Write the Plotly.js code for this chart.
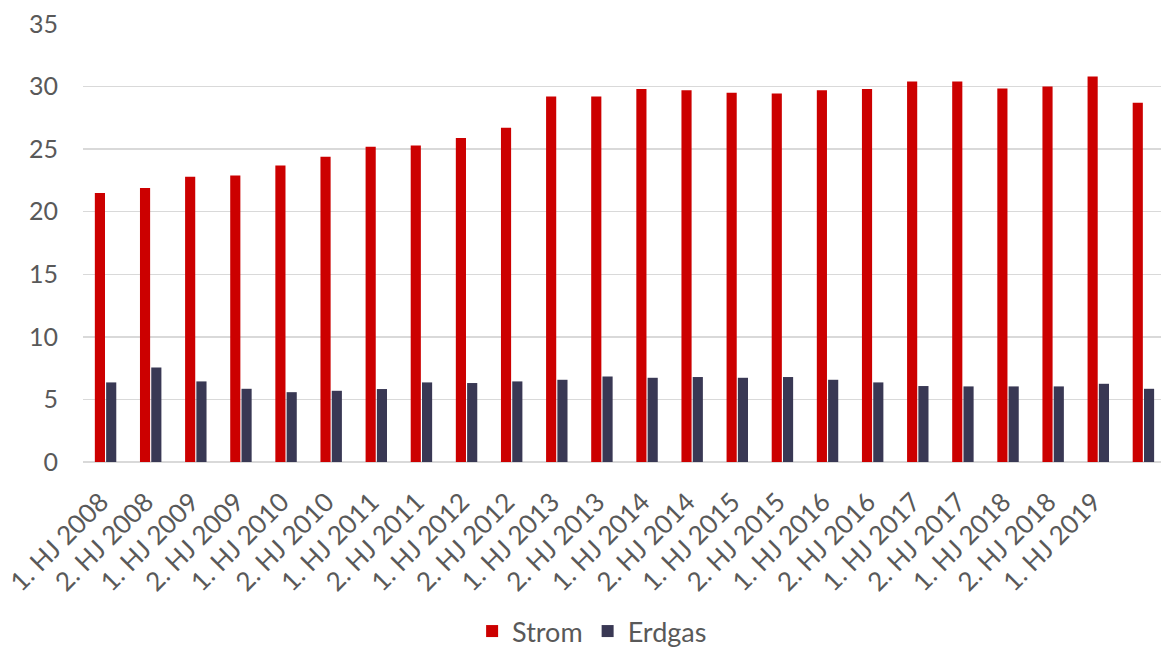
<!DOCTYPE html>
<html>
<head>
<meta charset="utf-8">
<script src="https://cdn.plot.ly/plotly-3.0.1.min.js"></script>
<style>
  html, body { margin: 0; padding: 0; background: #ffffff; }
  #chart { width: 1161px; height: 648px; }
</style>
</head>
<body>
<div id="chart"></div>
<script>
// Categories (half-years); the last group carries no visible label in the reference
const categories = [
  "1. HJ 2008", "2. HJ 2008", "1. HJ 2009", "2. HJ 2009", "1. HJ 2010", "2. HJ 2010",
  "1. HJ 2011", "2. HJ 2011", "1. HJ 2012", "2. HJ 2012", "1. HJ 2013", "2. HJ 2013",
  "1. HJ 2014", "2. HJ 2014", "1. HJ 2015", "2. HJ 2015", "1. HJ 2016", "2. HJ 2016",
  "1. HJ 2017", "2. HJ 2017", "1. HJ 2018", "2. HJ 2018", "1. HJ 2019", "2. HJ 2019"
];
const tickLabels = [
  "1. HJ 2008", "2. HJ 2008", "1. HJ 2009", "2. HJ 2009", "1. HJ 2010", "2. HJ 2010",
  "1. HJ 2011", "2. HJ 2011", "1. HJ 2012", "2. HJ 2012", "1. HJ 2013", "2. HJ 2013",
  "1. HJ 2014", "2. HJ 2014", "1. HJ 2015", "2. HJ 2015", "1. HJ 2016", "2. HJ 2016",
  "1. HJ 2017", "2. HJ 2017", "1. HJ 2018", "2. HJ 2018", "1. HJ 2019", ""
];
const strom = [
  21.5, 21.9, 22.8, 22.9, 23.7, 24.4,
  25.2, 25.3, 25.9, 26.7, 29.2, 29.2,
  29.8, 29.7, 29.5, 29.45, 29.7, 29.8,
  30.4, 30.4, 29.85, 30.0, 30.8, 28.7
];
const erdgas = [
  6.36, 7.56, 6.44, 5.85, 5.58, 5.69,
  5.83, 6.36, 6.31, 6.44, 6.57, 6.84,
  6.73, 6.79, 6.73, 6.79, 6.57, 6.36,
  6.07, 6.04, 6.04, 6.04, 6.25, 5.85
];
const yTicks = [0, 5, 10, 15, 20, 25, 30, 35];

const FONT = "Lato, 'Open Sans', 'DejaVu Sans', sans-serif";
const GREY = "#595959";

const traces = [
  {
    type: "bar", name: "Strom", x: categories, y: strom,
    marker: { color: "#CC0000" },
    hoverinfo: "x+y+name"
  },
  {
    type: "bar", name: "Erdgas", x: categories, y: erdgas,
    marker: { color: "#393854" },
    hoverinfo: "x+y+name"
  }
];

const layout = {
  width: 1161,
  height: 648,
  margin: { l: 83, r: 0, t: 24, b: 186, pad: 0, autoexpand: false },
  paper_bgcolor: "#ffffff",
  plot_bgcolor: "#ffffff",
  font: { family: FONT, color: GREY, size: 25 },
  barmode: "group",
  bargap: 0.5,
  bargroupgap: 0.1,
  showlegend: true,
  legend: {
    orientation: "h",
    xref: "container", yref: "paper",
    x: 0.51, xanchor: "center",
    y: -0.387, yanchor: "middle",
    font: { family: FONT, size: 27, color: GREY },
    bgcolor: "rgba(0,0,0,0)"
  },
  xaxis: {
    type: "category",
    categoryorder: "array",
    categoryarray: categories,
    tickmode: "array",
    tickvals: categories,
    ticktext: tickLabels.map(function (t) { return t ? t + "\u00A0" : t; }),
    tickangle: -45,
    range: [-0.5, 23.39],
    showgrid: false,
    zeroline: false,
    showline: false,
    ticks: "",
    ticklabelstandoff: 14,
    tickfont: { family: FONT, size: 26, color: GREY },
    automargin: false,
    fixedrange: true
  },
  yaxis: {
    range: [0, 35],
    tickmode: "array",
    tickvals: yTicks,
    ticktext: yTicks.map(String),
    showgrid: true,
    gridcolor: "#D9D9D9",
    gridwidth: 1.3,
    zeroline: true,
    zerolinecolor: "#D9D9D9",
    zerolinewidth: 1.5,
    showline: false,
    ticks: "",
    ticklabelstandoff: 24,
    tickfont: { family: FONT, size: 25, color: GREY },
    automargin: false,
    fixedrange: true
  }
};

Plotly.newPlot("chart", traces, layout, { displayModeBar: false, staticPlot: true });
</script>
</body>
</html>
